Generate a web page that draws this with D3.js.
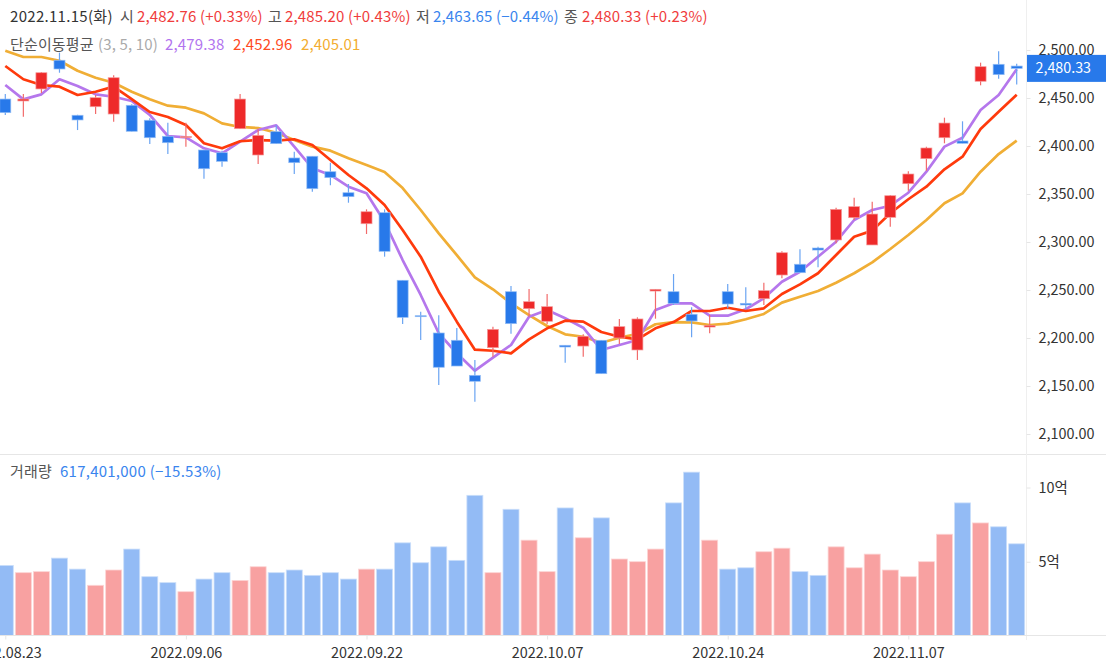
<!DOCTYPE html>
<html><head><meta charset="utf-8">
<script src="https://cdn.jsdelivr.net/npm/d3@7"></script>
<style>html,body{margin:0;padding:0;background:#fff;overflow:hidden}svg{display:block}text{font-family:"Noto Sans CJK KR","Noto Sans",sans-serif}</style>
</head><body><div id="c"></div>
<script>
const open=[2448.4,2446.4,2458.9,2488.8,2431.5,2440.4,2432.8,2441.9,2426.3,2409.6,2408.3,2395.3,2392.5,2417.5,2390.1,2414.4,2387,2388.8,2372.7,2350.8,2318.5,2330,2259.6,2222.7,2204.7,2197.1,2160.6,2189.4,2247.7,2230,2216.9,2191.9,2191.1,2197.1,2199.5,2187,2248.4,2247.7,2224.2,2210.9,2247.7,2235.6,2240.4,2265.1,2276.3,2293.2,2301.6,2324.8,2296.4,2325.2,2360.2,2386.3,2408.1,2404.7,2466.9,2484.6,2482.76];
const high=[2453.6,2453.6,2476.5,2496.7,2432,2452.6,2473.1,2443,2428.4,2423.8,2423.8,2395.3,2394.6,2453.6,2416.9,2421.4,2393.5,2388.8,2382.1,2359.9,2333.5,2333.5,2259.6,2226.9,2223.1,2209.9,2176.6,2211.3,2253.6,2250.5,2245.3,2191.9,2203.3,2197.1,2219.3,2221,2250.2,2266.1,2231.5,2223.4,2255.7,2252.3,2257.1,2289.8,2291.9,2294.6,2335.2,2345.6,2341.5,2348.4,2373.1,2398.8,2429,2425.2,2486.3,2498.1,2485.2];
const low=[2431.8,2430,2454.7,2475.8,2416.1,2432.8,2424.8,2414.5,2401.6,2391.1,2398.8,2365.4,2377.9,2417.5,2380.7,2401.9,2370.3,2351.9,2358.5,2340.4,2307.8,2284.2,2214.1,2197.4,2150.5,2170.3,2133.1,2180,2204,2221.7,2214.1,2173.7,2180,2162.3,2193.2,2176.6,2219.6,2233.9,2200.2,2204.4,2230.4,2229.4,2233.9,2261.7,2267.5,2273.1,2298.1,2322.4,2296.4,2315.4,2352.9,2373.8,2402.3,2402.3,2462.7,2469.6,2463.65];
const close=[2434.2,2448.4,2475.8,2479.7,2426.6,2449.8,2470.6,2414.8,2408.1,2402.9,2409.4,2375.8,2383.5,2448.4,2410.6,2401.9,2382.1,2355,2366.5,2346.7,2331,2289.8,2221,2222.1,2169,2170.3,2154.4,2208.5,2214.4,2237.3,2232.1,2190.1,2201.3,2162.3,2211.3,2219.3,2250.2,2235.6,2217.2,2212.7,2234.9,2233.9,2248.8,2288.3,2267.5,2291.1,2333.5,2336.3,2328.6,2347.7,2370.3,2397.4,2423.4,2402.3,2482.1,2473.8,2480.33];
const ma3=[2463,2448.1,2453.3,2469,2462,2453.3,2450.8,2446.4,2431.8,2409.9,2408.5,2397.1,2391.9,2404,2416.1,2421,2398.8,2376.3,2369.3,2357.1,2350.2,2320.6,2280.7,2244.3,2204.4,2183.5,2165.4,2179,2192.2,2221.7,2228.6,2220,2210.2,2187,2192.2,2197.4,2228.6,2235.6,2235.6,2222.7,2222.7,2229.4,2240.8,2258.1,2268.5,2284.2,2299.8,2322.4,2332.8,2337.3,2350.8,2372.7,2398.8,2408.1,2437,2452.6,2479.38];
const ma5=[2482.8,2469,2463,2461.3,2452.6,2456,2461.3,2448.4,2434.9,2429.7,2421.4,2402.3,2397.1,2404.4,2405.7,2405,2406.5,2400.5,2384.9,2369.3,2355.4,2338,2312,2284.2,2247.7,2216.5,2187.3,2186.2,2183.5,2198.1,2209.6,2217.5,2216.5,2205.7,2200.8,2198.1,2209.6,2216.1,2227.6,2227.6,2231,2227.6,2230.4,2245.3,2255.4,2266.9,2285.9,2305,2311.3,2329.4,2344,2357.1,2375.2,2388.3,2417.2,2435.2,2452.96];
const ma10=[2498.8,2492.2,2492.2,2488.3,2477.9,2470.6,2465.4,2456,2448.1,2441.5,2439.4,2433.5,2423.1,2419.3,2418.2,2413.3,2405.7,2398.8,2394.6,2386.7,2379.7,2372.4,2355.7,2332.8,2308.5,2285.9,2262.7,2250.2,2235.6,2223.4,2212,2203.3,2200.8,2194.6,2199.8,2203.6,2213.8,2216.1,2215.8,2213,2214.4,2219,2224.5,2236.3,2242.5,2248.4,2257.1,2266.9,2278.3,2292.2,2306.8,2322.4,2339.8,2350.2,2372.7,2391.1,2405.01];
const volume=[4.72,4.23,4.30,5.21,4.47,3.38,4.41,5.82,3.96,3.56,2.95,3.80,4.23,3.71,4.63,4.23,4.41,4.05,4.23,3.80,4.47,4.47,6.24,4.90,5.97,5.06,9.44,4.23,8.50,6.42,4.30,8.59,6.58,7.92,5.15,4.97,5.82,8.93,11.0,6.42,4.47,4.56,5.64,5.88,4.30,4.05,5.97,4.56,5.48,4.41,3.96,4.97,6.82,8.93,7.58,7.32,6.174];
const priceTicks=[2100,2150,2200,2250,2300,2350,2400,2450,2500];
const volTicks=[5,10];
const dateTickIndex=[0,10,20,30,40,50];
const dateTickLabels=["2022.08.23","2022.09.06","2022.09.22","2022.10.07","2022.10.24","2022.11.07"];
const lastClose=2480.33;

const W=1106,H=667,RED="#ee2a2a",BLUE="#2879ea",GRID="#e6e6e6";
const svg=d3.select("#c").append("svg").attr("width",W).attr("height",H);
const x=d3.scaleLinear().domain([0,56]).range([5.3,1016.7]);
const y=d3.scaleLinear().domain([2100,2500]).range([433.5,49.5]);
const v=d3.scaleLinear().domain([0,10]).range([635.5,487]);
const idx=d3.range(open.length);
// the last session is drawn blue in the reference because it closed below its open
const isUp=i=>close[i]>=open[i];

svg.append("line").attr("x1",0).attr("x2",W).attr("y1",454.5).attr("y2",454.5).attr("stroke",GRID);
svg.append("line").attr("x1",1026.5).attr("x2",1026.5).attr("y1",0).attr("y2",640).attr("stroke","#efefef");

// volume
svg.append("g").selectAll("rect").data(idx).join("rect")
 .attr("x",i=>x(i)-8).attr("width",16).attr("y",i=>v(volume[i])).attr("height",i=>v(0)-v(volume[i]))
 .attr("fill",i=>isUp(i)?"#f8a1a1":"#93bbf5").attr("stroke",i=>isUp(i)?"#fcd5d5":"#cbdffa").attr("stroke-width",0.8);

// moving averages lie beneath the candles
const line=d3.line().x((d,i)=>x(i)).y(d=>y(d));
[[ma10,"#f0ae35"],[ma3,"#b577ec"],[ma5,"#ff3a0c"]].forEach(([s,col])=>{
 svg.append("path").attr("d",line(s)).attr("fill","none").attr("stroke",col).attr("stroke-width",2.7).attr("stroke-linejoin","round");
});

// candles
const c=svg.append("g");
c.selectAll("line").data(idx).join("line")
 .attr("x1",x).attr("x2",x).attr("y1",i=>y(high[i])).attr("y2",i=>y(low[i]))
 .attr("stroke",i=>isUp(i)?"#f26b6b":"#6aa4f2").attr("stroke-width",1.2);
c.selectAll("rect").data(idx).join("rect")
 .attr("x",i=>x(i)-5.5).attr("width",11)
 .attr("y",i=>y(Math.max(open[i],close[i])))
 .attr("height",i=>Math.max(1,Math.abs(y(open[i])-y(close[i]))))
 .attr("fill",i=>isUp(i)?RED:BLUE)
 .attr("stroke",i=>isUp(i)?"#f59a9a":"#93bdf5").attr("stroke-width",0.7);

// axes
const fmt=d3.format(",.2f");
const ay=svg.append("g").attr("transform","translate(1026.5,0.5)").call(d3.axisRight(y).tickValues(priceTicks).tickFormat(fmt).tickSize(4).tickPadding(8));
const av=svg.append("g").attr("transform","translate(1026.5,0.5)").call(d3.axisRight(v).tickValues(volTicks).tickFormat(d=>d+"억").tickSize(4).tickPadding(8));
const ax=svg.append("g").attr("transform","translate(0,635.5)").call(d3.axisBottom(x).tickValues(dateTickIndex).tickFormat((d,i)=>dateTickLabels[i]).tickSize(4).tickPadding(8));
[ay,av,ax].forEach(a=>{
 a.selectAll("line").attr("stroke",GRID);
 a.selectAll("text").attr("fill","#333").attr("font-size",14.4).style("font-family",'"Noto Sans CJK KR"');
});
ay.select(".domain").remove();av.select(".domain").remove();
ax.select(".domain").attr("stroke",GRID).attr("d","M0,0H1106");

// last price tag
svg.append("rect").attr("x",1027).attr("width",79).attr("y",y(lastClose)-13.5).attr("height",27).attr("fill",BLUE);
svg.append("text").attr("x",1035.5).attr("y",y(lastClose)).attr("dy","0.35em").attr("fill","#fff").attr("font-size",14.3).text(fmt(lastClose));

// headers
const label=(t,px,py,col,sp)=>svg.append("text").attr("x",px).attr("y",py).attr("fill",col).attr("font-size",15).attr("letter-spacing",sp||0.15).text(t);
const TR="#f03c3c",TB="#3a85ee",TG="#555";
label("2022.11.15(화)",10,22,"#333",0.3);
label("시",120,22,TG);label("2,482.76 (+0.33%)",137,22,TR);
label("고",268,22,TG);label("2,485.20 (+0.43%)",285,22,TR);
label("저",416,22,TG);label("2,463.65 (−0.44%)",433,22,TB);
label("종",564,22,TG);label("2,480.33 (+0.23%)",582,22,TR);
label("단순이동평균",10,50,TG,0);label("(3, 5, 10)",98,50,"#aaa");
label("2,479.38",165,50,"#b274ef");label("2,452.96",233,50,"#ff4a1f");label("2,405.01",301,50,"#f3ad30");
label("거래량",10,477,TG,0);label("617,401,000 (−15.53%)",60,477,TB,0.25);
</script></body></html>
